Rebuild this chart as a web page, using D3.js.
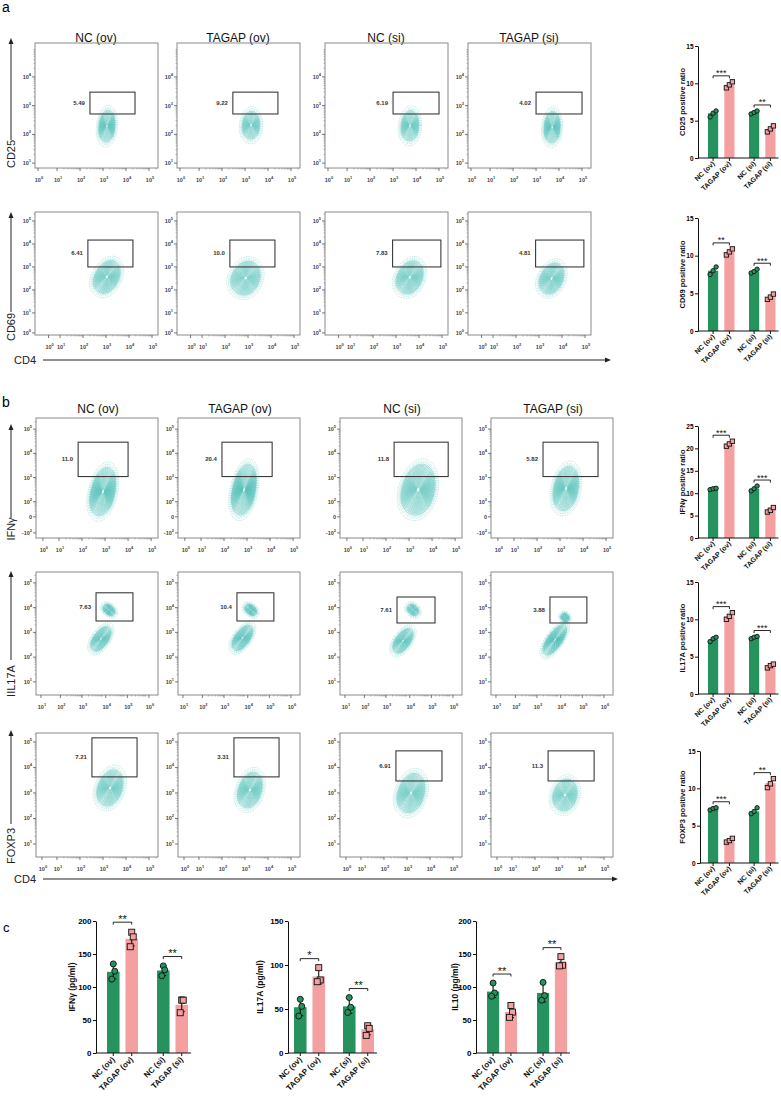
<!DOCTYPE html>
<html>
<head>
<meta charset="utf-8">
<script src="https://cdn.jsdelivr.net/npm/d3@7"></script>
<style>
  body { margin: 0; background: #fff; }
  svg { font-family: "Liberation Sans", Arial, sans-serif; }
</style>
</head>
<body>
<script>
// ---------- data ----------
var colTitles = ["NC (ov)", "TAGAP (ov)", "NC (si)", "TAGAP (si)"];
var barLabels = ["NC (ov)", "TAGAP (ov)", "NC (si)", "TAGAP (si)"];

// flow plots: gates [xmin, xmax, ymin, ymax] and populations [x, y, rx, ry, tilt] in decade units
var cd25Pct = ["5.49", "9.22", "6.19", "4.02"];
var cd25Gates = [[2.43, 4.39, 2.71, 3.47], [2.47, 4.43, 2.71, 3.47], [3.0, 5.0, 2.71, 3.47], [3.0, 5.0, 2.71, 3.47]];
var cd25Pops = [[[3.17, 2.29, 0.45, 0.73, 8]], [[3.26, 2.32, 0.5, 0.65, 6]], [[3.74, 2.3, 0.5, 0.7, 8]], [[3.7, 2.25, 0.45, 0.72, 5]]];
var cd25XTicks = [0.17, 1, 2, 3, 4, 5];
var cd25XLabs = ["10^0", "10^1", "10^2", "10^3", "10^4", "10^5"];
var cd25YTicks = [1, 2, 3, 4];
var cd25YLabs = ["10^1", "10^2", "10^3", "10^4"];

var cd69Pct = ["6.41", "10.0", "7.83", "4.81"];
var cd69Gates = [[2.21, 4.17, 3.0, 4.17], [2.21, 4.17, 3.0, 4.17], [2.85, 4.95, 3.0, 4.17], [2.85, 4.95, 3.0, 4.17]];
var cd69Pops = [[[3.04, 2.57, 0.65, 0.96, 28]], [[2.9, 2.52, 0.76, 0.96, 25]], [[3.6, 2.55, 0.68, 0.95, 25]], [[3.55, 2.5, 0.62, 0.9, 25]]];
var cd69XTicks = [0.5, 1, 2, 3, 4, 5];
var cd69XLabs = ["10^0", "10^1", "10^2", "10^3", "10^4", "10^5"];
var cd69YTicks = [0.13, 1, 2, 3, 4, 5];
var cd69YLabs = ["10^0", "10^1", "10^2", "10^3", "10^4", "10^5"];

var ifngPct = ["11.0", "20.4", "11.8", "5.82"];
var ifngGates = [[1.83, 4.0, 3.04, 4.46], [1.91, 4.09, 3.04, 4.46], [2.35, 4.7, 3.04, 4.46], [2.26, 4.65, 3.04, 4.46]];
var ifngPops = [[[2.91, 2.42, 0.63, 1.25, 14]], [[2.87, 2.5, 0.6, 1.3, 12]], [[3.4, 2.5, 0.85, 1.3, 15]], [[3.26, 2.55, 0.65, 1.15, 12]]];
var ifngXTicks = [0.3, 1, 2, 3, 4, 5];
var ifngXLabs = ["10^0", "10^1", "10^2", "10^3", "10^4", "10^5"];
var ifngYTicks = [0.71, 1.375, 2, 3, 4, 5];
var ifngYLabs = ["-10^2", "0", "10^2", "10^3", "10^4", "10^5"];

var il17Pct = ["7.63", "10.4", "7.61", "3.88"];
var il17Gates = [[3.65, 5.36, 3.46, 4.6], [3.6, 5.31, 3.46, 4.6], [3.51, 5.27, 3.38, 4.43], [3.6, 5.31, 3.38, 4.43]];
var il17Pops = [
  [[3.88, 2.74, 0.42, 0.78, 42], [4.25, 3.91, 0.42, 0.28, 30]],
  [[3.86, 2.78, 0.42, 0.8, 42], [4.24, 3.91, 0.42, 0.28, 30]],
  [[3.79, 2.66, 0.42, 0.78, 42], [4.25, 3.91, 0.4, 0.3, 30]],
  [[3.83, 2.7, 0.4, 0.95, 40], [4.3, 3.6, 0.3, 0.25, 30]]
];
var il17XTicks = [1.1, 2, 3, 4.1, 5.1, 6.1];
var il17XLabs = ["10^1", "10^2", "10^3", "10^4", "10^5", "10^6"];
var il17YTicks = [1, 2, 3, 4, 5];
var il17YLabs = ["10^1", "10^2", "10^3", "10^4", "10^5"];

var foxpPct = ["7.21", "3.31", "6.91", "11.3"];
var foxpGates = [[2.52, 4.48, 3.63, 5.16], [2.52, 4.48, 3.63, 5.16], [2.52, 4.52, 3.47, 4.65], [2.57, 4.57, 3.47, 4.65]];
var foxpPops = [[[3.31, 3.2, 0.65, 0.94, 25]], [[3.22, 3.12, 0.62, 0.92, 22]], [[3.18, 3.0, 0.7, 1.0, 22]], [[3.31, 2.92, 0.65, 0.82, 22]]];
var foxpXTicks = [0.35, 1, 2, 3, 4, 5];
var foxpXLabs = ["10^0", "10^1", "10^2", "10^3", "10^4", "10^5"];
var foxpYTicks = [1, 2, 3, 4, 5];
var foxpYLabs = ["10^1", "10^2", "10^3", "10^4", "10^5"];

// bar charts (positive ratio, %)
var cd25Mean = [6.0, 9.8, 6.1, 3.9];
var cd25Pts = [[5.5, 6.0, 6.3], [9.4, 9.8, 10.2], [5.9, 6.1, 6.3], [3.5, 3.9, 4.3]];
var cd25Sig = ["***", "**"];
var cd69Mean = [8.0, 10.5, 7.9, 4.5];
var cd69Pts = [[7.5, 8.0, 8.5], [10.1, 10.5, 10.9], [7.7, 7.9, 8.2], [4.2, 4.5, 4.9]];
var cd69Sig = ["**", "***"];
var ifngMean = [11.0, 20.9, 11.0, 6.2];
var ifngPts = [[10.8, 11.0, 11.1], [20.5, 21.0, 21.6], [10.5, 11.0, 11.6], [5.8, 6.2, 6.8]];
var ifngSig = ["***", "***"];
var il17Mean = [7.3, 10.4, 7.6, 3.8];
var il17Pts = [[7.0, 7.4, 7.6], [10.0, 10.4, 10.9], [7.4, 7.6, 7.7], [3.5, 3.8, 4.0]];
var il17Sig = ["***", "***"];
var foxpMean = [7.3, 3.0, 6.9, 10.7];
var foxpPts = [[7.1, 7.3, 7.4], [2.8, 3.0, 3.3], [6.6, 6.9, 7.4], [10.1, 10.6, 11.3]];
var foxpSig = ["***", "**"];

// ELISA (pg/ml)
var ifngElisaMean = [123, 173, 125, 73];
var ifngElisaPts = [[135, 124, 112], [183, 176, 161], [132, 126, 117], [80, 80, 61]];
var ifngElisaSig = ["**", "**"];
var il17ElisaMean = [52, 87, 53, 27];
var il17ElisaPts = [[61, 53, 42], [97, 83, 81], [63, 52, 46], [31, 28, 20]];
var il17ElisaSig = ["*", "**"];
var il10ElisaMean = [93, 62, 91, 137];
var il10ElisaPts = [[106, 91, 86], [72, 62, 54], [107, 87, 80], [146, 133, 132]];
var il10ElisaSig = ["**", "**"];

// ---------- drawing ----------
var svg = d3.select("body").append("svg")
  .attr("width", 781)
  .attr("height", 1098);

var green = "#26935f", pink = "#f4a0a0", teal = "#1fada3";

function expText(sel, s, big, small) {
  var p = s.split("^");
  sel.append("tspan").attr("font-size", big).text(p[0]);
  if (p.length > 1) sel.append("tspan").attr("font-size", small).attr("dy", -3).text(p[1]);
}

function flowPanel(left, top, w, h, row, col) {
  var x = d3.scaleLinear().domain(row.xDom).range([left, left + w]);
  var y = d3.scaleLinear().domain(row.yDom).range([top + h, top]);
  var g = svg.append("g");

  // contour rings: sparse at the edge, packed at the core
  row.pops[col].forEach(function(p) {
    var n = Math.round(8 + Math.max(p[2], p[3]) * 16);
    var a = p[4] * Math.PI / 180;
    for (var i = 0; i < n; i++) {
      var k = 1 - Math.pow(i / n, 0.75) * 0.95;
      var pts = d3.range(0, 40).map(function(j) {
        var t = j / 40 * 2 * Math.PI;
        var u = p[2] * k * Math.cos(t), v = p[3] * k * Math.sin(t);
        if (v < 0) u *= 1 + 0.1 * Math.min(1, -v / (p[3] * k));
        var dx = u * Math.cos(a) + v * Math.sin(a);
        var dy = -u * Math.sin(a) + v * Math.cos(a);
        return [x(p[0] + dx), y(p[1] + dy)];
      });
      g.append("path")
        .attr("d", d3.line().curve(d3.curveCardinalClosed)(pts))
        .attr("fill", "none")
        .attr("stroke", teal)
        .attr("stroke-opacity", i < 3 ? 0.6 : 0.85)
        .attr("stroke-width", 0.5)
        .attr("stroke-dasharray", i < 3 ? "1,0.8" : null);
    }
  });

  // frame
  g.append("rect")
    .attr("x", left).attr("y", top).attr("width", w).attr("height", h)
    .attr("fill", "none").attr("stroke", "#8a8a8a").attr("stroke-width", 1);

  // gate
  var gt = row.gates[col];
  g.append("rect")
    .attr("x", x(gt[0])).attr("y", y(gt[3]))
    .attr("width", x(gt[1]) - x(gt[0])).attr("height", y(gt[2]) - y(gt[3]))
    .attr("fill", "none").attr("stroke", "#3a3a3a").attr("stroke-width", 1.1);
  g.append("text")
    .attr("x", x(gt[0]) - 5).attr("y", (y(gt[2]) + y(gt[3])) / 2 + 2)
    .attr("text-anchor", "end").attr("font-size", "6px").attr("font-weight", "bold")
    .attr("fill", "#333").text(row.pct[col]);

  // ticks
  row.yTicks.forEach(function(v, i) {
    g.append("line").attr("x1", left - 3).attr("x2", left).attr("y1", y(v)).attr("y2", y(v))
      .attr("stroke", "#555").attr("stroke-width", 0.8);
    var t = g.append("text").attr("x", left - 4).attr("y", y(v) + 2)
      .attr("text-anchor", "end").attr("fill", "#444").attr("font-weight", "bold");
    expText(t, row.yLabs[i], "5.5px", "4px");
  });
  row.xTicks.forEach(function(v, i) {
    g.append("line").attr("x1", x(v)).attr("x2", x(v)).attr("y1", top + h).attr("y2", top + h + 3)
      .attr("stroke", "#555").attr("stroke-width", 0.8);
    var t = g.append("text").attr("x", x(v) + 1).attr("y", top + h + 14)
      .attr("text-anchor", "middle").attr("fill", "#444").attr("font-weight", "bold");
    expText(t, row.xLabs[i], "5.5px", "4px");
  });
  // minor ticks
  var firstY = row.yTicks.filter(function(q) { return q >= 1; })[0];
  d3.range(1, 7).forEach(function(d) {
    d3.range(2, 10).forEach(function(m) {
      var v = d + Math.log10(m);
      if (v > firstY && v < row.yDom[1]) {
        g.append("line").attr("x1", left - 1.5).attr("x2", left).attr("y1", y(v)).attr("y2", y(v))
          .attr("stroke", "#777").attr("stroke-width", 0.5);
      }
      var vx = d - 1 + Math.log10(m);
      if (vx > row.xTicks[1] && vx < row.xDom[1]) {
        g.append("line").attr("x1", x(vx)).attr("x2", x(vx)).attr("y1", top + h).attr("y2", top + h + 1.5)
          .attr("stroke", "#777").attr("stroke-width", 0.5);
      }
    });
  });
}

function flowRow(row, lefts, w, top, h) {
  lefts.forEach(function(l, c) { flowPanel(l, top, w, h, row, c); });
}

function vArrow(x, yTop, yBot, label, labelY) {
  svg.append("line").attr("x1", x).attr("x2", x).attr("y1", yTop + 5).attr("y2", yBot)
    .attr("stroke", "#222").attr("stroke-width", 1);
  svg.append("path").attr("d", "M" + (x - 2.5) + "," + (yTop + 6) + "L" + x + "," + yTop + "L" + (x + 2.5) + "," + (yTop + 6) + "Z")
    .attr("fill", "#222");
  svg.append("text").attr("transform", "translate(" + (x + 4) + "," + labelY + ") rotate(-90)")
    .attr("text-anchor", "middle").attr("font-size", "11px").attr("fill", "#222").text(label);
}

function hArrow(y, x0, x1) {
  svg.append("text").attr("x", 14).attr("y", y + 4).attr("font-size", "11px").attr("fill", "#222").text("CD4");
  svg.append("line").attr("x1", x0).attr("x2", x1 - 5).attr("y1", y).attr("y2", y)
    .attr("stroke", "#222").attr("stroke-width", 1);
  svg.append("path").attr("d", "M" + (x1 - 6) + "," + (y - 2.5) + "L" + x1 + "," + y + "L" + (x1 - 6) + "," + (y + 2.5) + "Z")
    .attr("fill", "#222");
}

function barChart(c) {
  var g = svg.append("g");
  var y = d3.scaleLinear().domain([0, c.yMax]).range([c.y0, c.y1]);
  var x0 = d3.scaleBand().domain(["ov", "si"]).range(c.xr).paddingInner(c.pOut);
  var x1 = d3.scaleBand().domain(["NC", "TAGAP"]).range([0, x0.bandwidth()]).paddingInner(c.pIn);
  var bx = function(i) { return x0(i < 2 ? "ov" : "si") + x1(i % 2 ? "TAGAP" : "NC"); };
  var bw = x1.bandwidth();
  var cx = function(i) { return bx(i) + bw / 2; };

  g.selectAll("rect.bar").data(c.mean).enter().append("rect")
    .attr("x", function(d, i) { return bx(i); })
    .attr("y", function(d) { return y(d); })
    .attr("width", bw)
    .attr("height", function(d) { return y(0) - y(d); })
    .attr("fill", function(d, i) { return i % 2 ? pink : green; });

  // error bars
  if (c.err) {
    c.pts.forEach(function(p, i) {
      var m = d3.mean(p), s = d3.deviation(p);
      g.append("line").attr("x1", cx(i)).attr("x2", cx(i)).attr("y1", y(m - s)).attr("y2", y(m + s))
        .attr("stroke", "#111").attr("stroke-width", 1.1);
      [m - s, m + s].forEach(function(v) {
        g.append("line").attr("x1", cx(i) - 3).attr("x2", cx(i) + 3).attr("y1", y(v)).attr("y2", y(v))
          .attr("stroke", "#111").attr("stroke-width", 1.1);
      });
    });
  }

  // points
  c.pts.forEach(function(p, i) {
    p.forEach(function(v, j) {
      var px = cx(i) + c.jit[j], py = y(v);
      if (i % 2 === 0) {
        g.append("circle").attr("cx", px).attr("cy", py).attr("r", c.r)
          .attr("fill", green).attr("stroke", "#111").attr("stroke-width", 0.9);
      } else {
        g.append("rect").attr("x", px - c.r).attr("y", py - c.r).attr("width", 2 * c.r).attr("height", 2 * c.r)
          .attr("fill", pink).attr("stroke", "#111").attr("stroke-width", 0.9);
      }
    });
  });

  // significance brackets
  c.sig.forEach(function(s, k) {
    var a = 2 * k, b = 2 * k + 1;
    var top = d3.min([a, b], function(i) {
      var hi = c.err ? d3.mean(c.pts[i]) + d3.deviation(c.pts[i]) : d3.max(c.pts[i]);
      return Math.min(y(hi), y(d3.max(c.pts[i])));
    }) - c.gap;
    g.append("path")
      .attr("d", "M" + cx(a) + "," + (top + 2.5) + "V" + top + "H" + cx(b) + "V" + (top + 2.5))
      .attr("fill", "none").attr("stroke", "#111").attr("stroke-width", 0.9);
    g.append("text").attr("x", (cx(a) + cx(b)) / 2).attr("y", top + c.starDy)
      .attr("text-anchor", "middle").attr("font-size", c.starSize).attr("fill", "#111").text(s);
  });

  // y axis
  var ax = g.append("g").attr("transform", "translate(" + c.axisX + ",0)")
    .call(d3.axisLeft(y).tickValues(d3.range(0, c.yMax + 1, c.step)).tickSize(3).tickSizeOuter(0).tickPadding(1.5));
  ax.attr("font-family", null).attr("font-size", c.tickSize).attr("font-weight", "bold");
  ax.selectAll("path, line").attr("stroke", "#111").attr("stroke-width", 1);
  // x axis line
  g.append("line").attr("x1", c.axisX).attr("x2", c.xr[1] + 3).attr("y1", y(0)).attr("y2", y(0))
    .attr("stroke", "#111").attr("stroke-width", 1);
  barLabels.forEach(function(l, i) {
    g.append("line").attr("x1", cx(i)).attr("x2", cx(i)).attr("y1", y(0)).attr("y2", y(0) + 3)
      .attr("stroke", "#111").attr("stroke-width", 1);
    g.append("text")
      .attr("transform", "translate(" + (cx(i) + 2) + "," + (y(0) + c.labDy) + ") rotate(-45)")
      .attr("text-anchor", "end").attr("font-size", c.labSize).attr("font-weight", "bold")
      .attr("fill", "#111").text(l);
  });
  g.append("text")
    .attr("transform", "translate(" + c.titleX + "," + (c.y0 + c.y1) / 2 + ") rotate(-90)")
    .attr("text-anchor", "middle").attr("font-size", c.titleSize).attr("font-weight", "bold")
    .attr("fill", "#111").text(c.title);
}

// ---------- section a ----------
svg.append("text").attr("x", 2).attr("y", 12).attr("font-size", "14px").text("a");
var aLefts = [35, 177, 325, 468];
colTitles.forEach(function(t, i) {
  svg.append("text").attr("x", aLefts[i] + 61).attr("y", 42).attr("text-anchor", "middle")
    .attr("font-size", "12px").attr("fill", "#111").text(t);
});
flowRow({xDom: [0.04, 5.39], yDom: [0.83, 5.18], xTicks: cd25XTicks, xLabs: cd25XLabs, yTicks: cd25YTicks, yLabs: cd25YLabs,
  gates: cd25Gates, pct: cd25Pct, pops: cd25Pops}, aLefts, 123, 43, 125);
flowRow({xDom: [-0.09, 5.26], yDom: [0.04, 5.39], xTicks: cd69XTicks, xLabs: cd69XLabs, yTicks: cd69YTicks, yLabs: cd69YLabs,
  gates: cd69Gates, pct: cd69Pct, pops: cd69Pops}, aLefts, 123, 212, 123);
vArrow(11, 38, 140, "CD25", 154);
vArrow(11, 212, 312, "CD69", 327);
hArrow(360, 43, 611);

var smallBase = {xr: [708, 775.5], pOut: 0.354, pIn: 0.375, axisX: 698, r: 2.2, jit: [-3, 0, 3], err: false,
  gap: 6, starDy: 0.5, starSize: "9px", tickSize: "6.5px", labSize: "7px", labDy: 6, titleX: 685, titleSize: "7.5px", step: 5};

barChart(Object.assign({}, smallBase, {mean: cd25Mean, pts: cd25Pts, sig: cd25Sig, yMax: 15, y0: 158, y1: 46, title: "CD25 positive ratio"}));
barChart(Object.assign({}, smallBase, {mean: cd69Mean, pts: cd69Pts, sig: cd69Sig, yMax: 15, y0: 331, y1: 218, title: "CD69 positive ratio"}));

// ---------- section b ----------
svg.append("text").attr("x", 2).attr("y", 407).attr("font-size", "14px").text("b");
var bLefts = [36, 178, 340, 491];
colTitles.forEach(function(t, i) {
  svg.append("text").attr("x", bLefts[i] + 62).attr("y", 413).attr("text-anchor", "middle")
    .attr("font-size", "12px").attr("fill", "#111").text(t);
});
flowRow({xDom: [0, 5.3], yDom: [0.5, 5.46], xTicks: ifngXTicks, xLabs: ifngXLabs, yTicks: ifngYTicks, yLabs: ifngYLabs,
  gates: ifngGates, pct: ifngPct, pops: ifngPops}, bLefts, 122, 418, 120);
flowRow({xDom: [0.87, 6.52], yDom: [0.47, 5.44], xTicks: il17XTicks, xLabs: il17XLabs, yTicks: il17YTicks, yLabs: il17YLabs,
  gates: il17Gates, pct: il17Pct, pops: il17Pops}, bLefts, 122, 572, 123);
flowRow({xDom: [0.09, 5.39], yDom: [0.49, 5.35], xTicks: foxpXTicks, xLabs: foxpXLabs, yTicks: foxpYTicks, yLabs: foxpYLabs,
  gates: foxpGates, pct: foxpPct, pops: foxpPops}, bLefts, 122, 733, 124);
vArrow(11, 424, 518, "IFNγ", 529);
vArrow(11, 571, 660, "IIL17A", 681);
vArrow(11, 730, 824, "FOXP3", 846);
hArrow(879, 43, 618);

barChart(Object.assign({}, smallBase, {mean: ifngMean, pts: ifngPts, sig: ifngSig, yMax: 25, y0: 538, y1: 426, title: "IFNγ positive ratio"}));
barChart(Object.assign({}, smallBase, {mean: il17Mean, pts: il17Pts, sig: il17Sig, yMax: 15, y0: 694, y1: 582, title: "IL17A positive ratio"}));
barChart(Object.assign({}, smallBase, {axisX: 700, mean: foxpMean, pts: foxpPts, sig: foxpSig, yMax: 15, y0: 863, y1: 751, title: "FOXP3 positive ratio"}));

// ---------- section c ----------
svg.append("text").attr("x", 3).attr("y", 932).attr("font-size", "13px").text("c");
var bigBase = {pIn: 0.32, r: 3, jit: [0, 1.5, -1.5], err: true, gap: 9, starDy: 0.5, starSize: "11px",
  tickSize: "8px", labSize: "8px", labDy: 7, titleSize: "8.5px", y0: 1053, y1: 921};

barChart(Object.assign({}, bigBase, {xr: [107, 188], pOut: 0.38, axisX: 96, titleX: 75, mean: ifngElisaMean, pts: ifngElisaPts,
  sig: ifngElisaSig, yMax: 200, step: 50, title: "IFNγ (pg/ml)"}));
barChart(Object.assign({}, bigBase, {xr: [294, 374], pOut: 0.367, axisX: 288, titleX: 263, mean: il17ElisaMean, pts: il17ElisaPts,
  sig: il17ElisaSig, yMax: 150, step: 50, title: "IL17A (pg/ml)"}));
barChart(Object.assign({}, bigBase, {xr: [487, 567], pOut: 0.4, axisX: 476, titleX: 458, mean: il10ElisaMean, pts: il10ElisaPts,
  sig: il10ElisaSig, yMax: 200, step: 50, title: "IL10 (pg/ml)"}));
</script>
</body>
</html>
